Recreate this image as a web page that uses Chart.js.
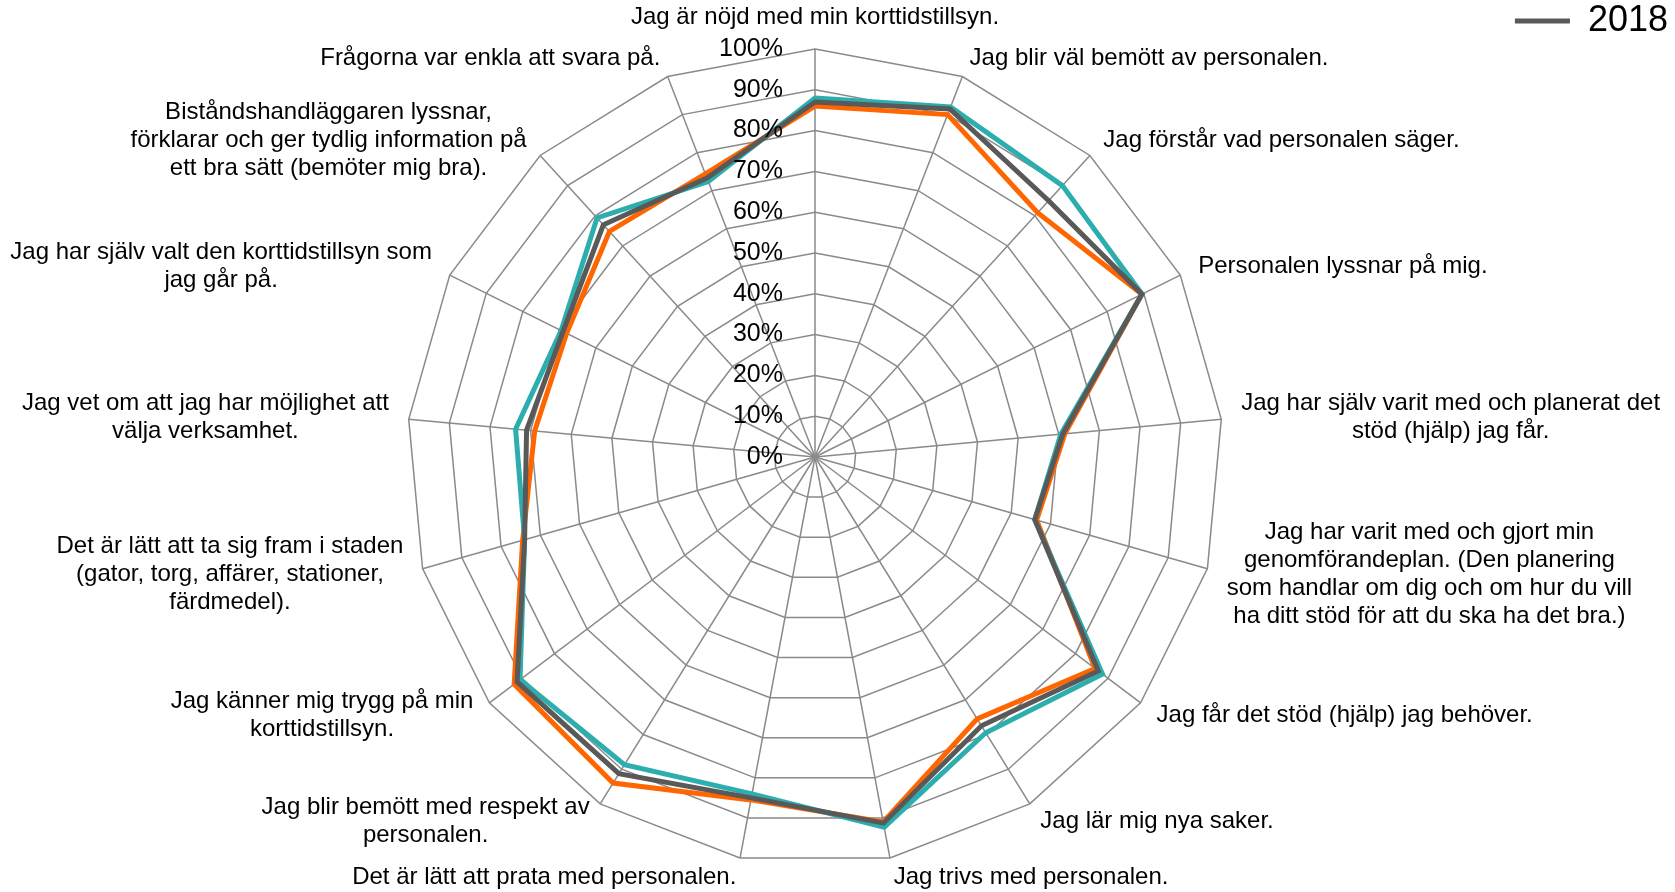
<!DOCTYPE html>
<html>
<head>
<meta charset="utf-8">
<script src="https://cdn.jsdelivr.net/npm/chart.js@4.4.1/dist/chart.umd.min.js"></script>
<style>
  html, body { margin: 0; padding: 0; background: #fff; }
  #wrap { width: 1675px; height: 892px; position: relative; }
</style>
</head>
<body>
<div id="wrap"><canvas id="radar"></canvas></div>
<script>
// categories, one array of lines per spoke (clockwise from the top)
const questions = [
  ["Jag är nöjd med min korttidstillsyn."],
  ["Jag blir väl bemött av personalen."],
  ["Jag förstår vad personalen säger."],
  ["Personalen lyssnar på mig."],
  ["Jag har själv varit med och planerat det", "stöd (hjälp) jag får."],
  ["Jag har varit med och gjort min", "genomförandeplan. (Den planering", "som handlar om dig och om hur du vill", "ha ditt stöd för att du ska ha det bra.)"],
  ["Jag får det stöd (hjälp) jag behöver."],
  ["Jag lär mig nya saker."],
  ["Jag trivs med personalen."],
  ["Det är lätt att prata med personalen."],
  ["Jag blir bemött med respekt av", "personalen."],
  ["Jag känner mig trygg på min", "korttidstillsyn."],
  ["Det är lätt att ta sig fram i staden", "(gator, torg, affärer, stationer,", "färdmedel)."],
  ["Jag vet om att jag har möjlighet att", "välja verksamhet."],
  ["Jag har själv valt den korttidstillsyn som", "jag går på."],
  ["Biståndshandläggaren lyssnar,", "förklarar och ger tydlig information på", "ett bra sätt (bemöter mig bra)."],
  ["Frågorna var enkla att svara på."]
];

const values2018 = [87, 91.5, 85, 89.5, 61, 56, 87, 77.5, 91.3, 85, 91.3, 91.5, 74, 71, 69, 77, 73.3];
const valuesTeal = [88, 92, 90, 89.5, 60.5, 56, 88.3, 79.5, 92.3, 84, 88.7, 90.6, 74, 73.7, 69.5, 79.3, 72.4];
const valuesOrange = [86, 90, 81, 89.5, 61.5, 56.5, 86, 75.5, 91, 85.5, 94, 92.4, 74.5, 69, 68, 74.8, 74.4];

const tickLabels = ["0%", "10%", "20%", "30%", "40%", "50%", "60%", "70%", "80%", "90%", "100%"];

const FONT = "'Liberation Sans', Arial, sans-serif";

// tick and spoke labels, drawn where Excel puts them
const textPlugin = {
  id: "radarText",
  afterDatasetsDraw(chart) {
    const s = chart.scales.r;
    const ctx = chart.ctx;
    ctx.save();
    ctx.fillStyle = "#000";
    ctx.font = "25px " + FONT;
    ctx.textAlign = "right";
    ctx.textBaseline = "middle";
    s.ticks.forEach(t => {
      const y = s.yCenter - s.getDistanceFromCenterForValue(t.value);
      ctx.fillText(t.label, s.xCenter - 32, y);
    });

    ctx.font = "24px " + FONT;
    ctx.textAlign = "center";
    const lh = 28;
    chart.data.labels.forEach((lab, i) => {
      const lines = Array.isArray(lab) ? lab : [lab];
      const p = s.getPointPosition(i, s.drawingArea + 20);
      const sx = Math.sin(s.getIndexAngle(i));
      const w = Math.max(...lines.map(l => ctx.measureText(l).width));
      const h = lines.length * lh;
      let left, top;
      if (Math.abs(sx) < 0.01) { left = p.x - w / 2; top = p.y - h + 2; }
      else if (sx > 0) { left = p.x; top = p.y - h / 2; }
      else { left = p.x - w; top = p.y - h / 2; }
      lines.forEach((l, k) => ctx.fillText(l, left + w / 2, top + lh * (k + 0.5)));
    });
    ctx.restore();
  }
};

new Chart(document.getElementById("radar"), {
  type: "radar",
  data: {
    labels: questions,
    datasets: [
      { label: "2018", data: values2018, borderColor: "#595959", backgroundColor: "#595959" },
      { label: "2017", data: valuesTeal, borderColor: "#2DAEAE", backgroundColor: "#2DAEAE" },
      { label: "2016", data: valuesOrange, borderColor: "#FF6600", backgroundColor: "#FF6600" }
    ].map(d => Object.assign(d, {
      fill: false, borderWidth: 5, pointRadius: 0, pointHoverRadius: 0,
      borderCapStyle: "round", tension: 0
    }))
  },
  options: {
    responsive: true,
    maintainAspectRatio: false,
    animation: false,
    layout: { padding: { top: 3, bottom: 27, left: 0, right: 7 } },
    plugins: {
      // blank title on the right just takes up room so the web sits left of centre
      title: { display: true, position: "right", text: " ", font: { size: 15 }, padding: 10 },
      legend: {
        position: "top",
        align: "end",
        labels: {
          filter: item => item.text === "2018",
          usePointStyle: true,
          pointStyle: "line",
          pointStyleWidth: 55,
          padding: 0,
          color: "#000",
          font: { family: FONT, size: 36 }
        }
      },
      tooltip: { enabled: false }
    },
    scales: {
      r: {
        min: 0,
        max: 100,
        ticks: { stepSize: 10, display: false, callback: (v, i) => tickLabels[i] },
        pointLabels: { display: false },
        grid: { color: "#8a8a8a", lineWidth: 1.5 },
        angleLines: { color: "#8a8a8a", lineWidth: 1.5 }
      }
    }
  },
  plugins: [textPlugin]
});
</script>
</body>
</html>
